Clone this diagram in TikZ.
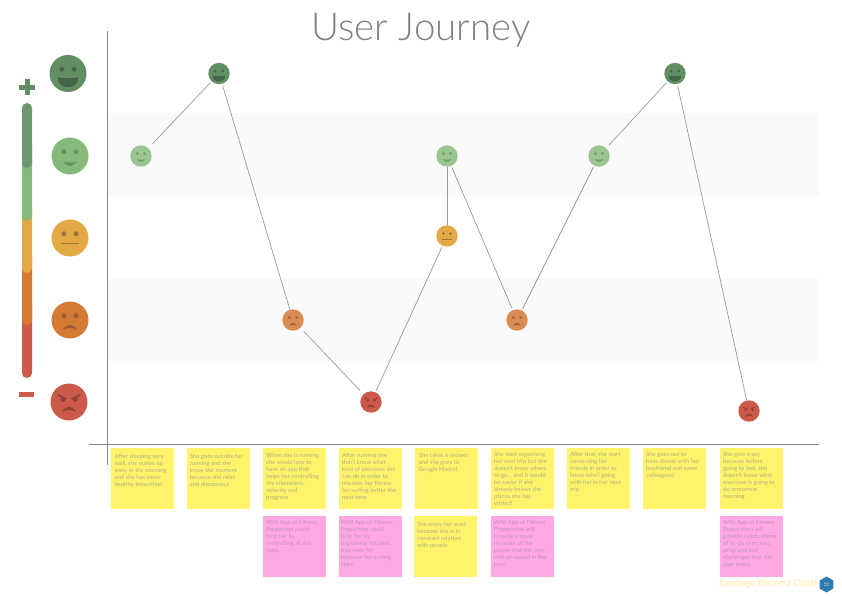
\documentclass[tikz,border=0pt]{standalone}
\usepackage{fontspec}
\setmainfont{Lato}
\newfontfamily\titlefont{Lato Light}
\usetikzlibrary{shapes.geometric}
\definecolor{cA}{HTML}{628E64}\definecolor{eA}{HTML}{46664A}
\definecolor{cB}{HTML}{84BA7A}\definecolor{eB}{HTML}{659263}
\definecolor{cC}{HTML}{E3A945}\definecolor{eC}{HTML}{9C7040}
\definecolor{cD}{HTML}{D57A35}\definecolor{eD}{HTML}{9C5A2E}
\definecolor{cE}{HTML}{CC5A4A}\definecolor{eE}{HTML}{8F4036}
\definecolor{noteY}{HTML}{FFF36B}\definecolor{noteP}{HTML}{FFA8E4}
\definecolor{txtY}{HTML}{B2B080}\definecolor{txtP}{HTML}{C090BA}
\definecolor{axisc}{HTML}{888888}\definecolor{linec}{HTML}{999999}
\definecolor{sigc}{HTML}{FFE8A0}\definecolor{logoc}{HTML}{2F7AB0}
\definecolor{bandc}{HTML}{FAFAFA}
\tikzset{
  band/.style={fill=bandc,draw=none},
  axisline/.style={draw=axisc,line width=0.9pt},
  link/.style={draw=linec,line width=0.7pt},
  notebox/.style={minimum width=63pt,minimum height=61pt,inner sep=0pt,outer sep=0pt,anchor=north west},
  notetext/.style={anchor=north west,inner sep=0pt,align=left,font=\fontsize{5.9}{7}\selectfont},
  facenode/.style={circle,inner sep=0pt,outer sep=0pt,minimum size=#1},
}
\newcommand{\eyes}[3]{\fill[#1] (-0.33*#2,#3*#2) circle[radius=0.135*#2] (0.33*#2,#3*#2) circle[radius=0.135*#2];}
\newcommand{\faceA}[2]{\eyes{#1}{#2}{-0.23}\fill[#1] (-0.56*#2,0.2*#2) .. controls (-0.2*#2,0.27*#2) and (0.2*#2,0.27*#2) .. (0.56*#2,0.2*#2) .. controls (0.6*#2,0.93*#2) and (-0.6*#2,0.93*#2) .. (-0.56*#2,0.2*#2);}
\newcommand{\faceB}[2]{\eyes{#1}{#2}{-0.23}\fill[#1] (-0.38*#2,0.3*#2) .. controls (-0.12*#2,0.37*#2) and (0.12*#2,0.37*#2) .. (0.38*#2,0.3*#2) .. controls (0.2*#2,0.62*#2) and (-0.2*#2,0.62*#2) .. (-0.38*#2,0.3*#2);}
\newcommand{\faceC}[2]{\eyes{#1}{#2}{-0.23}\fill[#1] (-0.5*#2,0.28*#2) rectangle (0.5*#2,0.35*#2);}
\newcommand{\faceD}[2]{\eyes{#1}{#2}{-0.23}\fill[#1] (-0.38*#2,0.52*#2) .. controls (-0.2*#2,0.18*#2) and (0.2*#2,0.18*#2) .. (0.38*#2,0.52*#2) .. controls (0.15*#2,0.4*#2) and (-0.15*#2,0.4*#2) .. (-0.38*#2,0.52*#2);}
\newcommand{\faceE}[2]{\eyes{#1}{#2}{-0.14}\fill[#1] (-0.38*#2,0.52*#2) .. controls (-0.2*#2,0.18*#2) and (0.2*#2,0.18*#2) .. (0.38*#2,0.52*#2) .. controls (0.15*#2,0.4*#2) and (-0.15*#2,0.4*#2) .. (-0.38*#2,0.52*#2);
  \fill[#1] (-0.6*#2,-0.44*#2) -- (-0.12*#2,-0.2*#2) -- (-0.15*#2,-0.13*#2) -- (-0.62*#2,-0.34*#2) -- cycle;
  \fill[#1] (0.6*#2,-0.44*#2) -- (0.12*#2,-0.2*#2) -- (0.15*#2,-0.13*#2) -- (0.62*#2,-0.34*#2) -- cycle;}
\newcommand{\face}[6]{%
  \node[facenode=#4*2pt,fill=c#5,opacity=#6] (#1) at (#2,#3) {};
  \begin{scope}[shift={(#2,#3)},opacity=#6]\csname face#5\endcsname{e#5}{#4}\end{scope}}
\begin{document}
\begin{tikzpicture}[x=1pt,y=-1pt]
\useasboundingbox (0,0) rectangle (842,595);
\fill[band] (108,113) rectangle (819,196);
\fill[band] (108,278) rectangle (819,361);
\coordinate (ytop) at (107.5,31); \coordinate (ybot) at (107.5,465);
\coordinate (xl) at (89,444.5); \coordinate (xr) at (819,444.5);
\draw[axisline] (ytop) -- (ybot);
\draw[axisline] (xl) -- (xr);
\node[font=\titlefont\fontsize{38.5}{40}\selectfont,text=black!50,inner sep=0pt] (title) at (421,30) {User Journey};
\fill[cE,rounded corners=5pt] (22,300) rectangle (32,378);
\fill[cD,rounded corners=5pt] (22,250) rectangle (32,325);
\fill[cC,rounded corners=5pt] (22,200) rectangle (32,273);
\fill[cB,rounded corners=5pt] (22,140) rectangle (32,221);
\fill[cA!92!white,rounded corners=5pt] (22,103) rectangle (32,168);
\fill[cA] (19,84.5) rectangle (35,89.5);
\fill[cA] (24.5,79) rectangle (29.5,95);
\fill[cE] (18.5,391.7) rectangle (34,397);
\face{la}{68}{73.5}{18.5}{A}{1}
\face{lb}{70}{156}{18.5}{B}{1}
\face{lc}{70}{238}{18.5}{C}{1}
\face{ld}{70}{320}{18.5}{D}{1}
\face{le}{69}{402}{18.5}{E}{1}
\face{n1}{141}{156}{10.7}{B}{0.82}
\face{n2}{219}{73.5}{10.7}{A}{1}
\face{n3}{293}{320}{10.7}{D}{0.85}
\face{n4}{371}{402}{10.7}{E}{1}
\face{n5}{447}{236}{10.7}{C}{1}
\face{n6}{447}{156}{10.7}{B}{0.82}
\face{n7}{517}{320}{10.7}{D}{0.85}
\face{n8}{599}{156}{10.7}{B}{0.82}
\face{n9}{675}{73.5}{10.7}{A}{1}
\face{n10}{749}{411}{10.7}{E}{1}
\draw[link,shorten >=2pt,shorten <=6pt] (n1) -- (n2);
\draw[link,shorten >=0pt,shorten <=2pt] (n2) -- (n3);
\draw[link,shorten >=5pt,shorten <=5pt] (n3) -- (n4);
\draw[link,shorten >=2pt,shorten <=2pt] (n4) -- (n5);
\draw[link] (n5) -- (n6);
\draw[link,shorten >=2pt,shorten <=2pt] (n6) -- (n7);
\draw[link,shorten >=2pt,shorten <=2pt] (n7) -- (n8);
\draw[link,shorten >=2pt,shorten <=4pt] (n8) -- (n9);
\draw[link,shorten >=0pt,shorten <=2pt] (n9) -- (n10);
\node[notebox,fill=noteY] (y1) at (111,448) {};
\node[notebox,fill=noteY] (y2) at (187,448) {};
\node[notebox,fill=noteY] (y3) at (263,448) {};
\node[notebox,fill=noteY] (y4) at (339,448) {};
\node[notebox,fill=noteY] (y5) at (415,448) {};
\node[notebox,fill=noteY] (y6) at (491,448) {};
\node[notebox,fill=noteY] (y7) at (567,448) {};
\node[notebox,fill=noteY] (y8) at (643,448) {};
\node[notebox,fill=noteY] (y9) at (720,448) {};
\node[notebox,fill=noteP] (p3) at (263,516) {};
\node[notebox,fill=noteP] (p4) at (339,516) {};
\node[notebox,fill=noteY] (y5b) at (414,516) {};
\node[notebox,fill=noteP] (p6) at (491,516) {};
\node[notebox,fill=noteP] (p9) at (720,516) {};
\node[notetext,text=txtY] (ty1) at (114.7,453.5) {After sleeping very\\well, she wakes up\\early in the morning\\and she has some\\healthy breackfast};
\node[notetext,text=txtY] (ty2) at (189.7,453.5) {She goes outside for\\running and she\\enjoy the moment\\because she relax\\and disconnect};
\node[notetext,text=txtY] (ty3) at (266,452.5) {When she is running\\she would love to\\have an app that\\helps her controlling\\the kilometers,\\velocity and\\progress};
\node[notetext,text=txtP] (tp3) at (266,520) {WNI App of Fitness\\Prepartion could\\help her by\\controlling all this\\stats.};
\node[notetext,text=txtY] (ty4) at (342,452.5) {After running she\\don't know what\\kind of exercises she\\can do in order to\\improve her fitness\\for surfing better the\\next time};
\node[notetext,text=txtP] (tp4) at (341,519.5) {WNI App of Fitness\\Prepartion could\\help her by\\explaining the best\\exercises for\\improve her surfing\\skiss};
\node[notetext,text=txtY] (ty5) at (418.7,452.5) {She takes a shower\\and she goes to\\Google Madrid};
\node[notetext,text=txtY] (ty5b) at (417,521.5) {She enjoy her work\\because she is in\\constant relation\\with people};
\node[notetext,text=txtY] (ty6) at (494,451.5) {She start organising\\her next trip but she\\doesn't know where\\to go... and it would\\be easier if she\\already knows the\\places she has\\visited!};
\node[notetext,text=txtP] (tp6) at (494,519.5) {WNI App of Fitness\\Preparation will\\provide a route\\recorder of the\\places that the user\\visit or visited in the\\past.};
\node[notetext,text=txtY] (ty7) at (570,451.5) {After that, she start\\contacting her\\friends in order to\\know who'l going\\with her in her next\\trip};
\node[notetext,text=txtY] (ty8) at (646,451.5) {She goes out to\\have dinner with her\\boyfriend and some\\colleagues!};
\node[notetext,text=txtY] (ty9) at (723,451.5) {She gets crazy\\because before\\going to bed, she\\doesn't know what\\exercises is going to\\do tomorrow\\morning};
\node[notetext,text=txtP] (tp9) at (723,519.5) {WNI App of Fitness\\Preparation will\\provide notifications\\of to-do exercises,\\programs and\\challenges that the\\user select};
\node[anchor=west,inner sep=0pt,text=sigc,font=\fontsize{9.7}{12}\selectfont] (sig) at (719,584) {Santiago Becerra Conti};
\node[regular polygon,regular polygon sides=6,shape border rotate=30,minimum size=16pt,inner sep=0pt,fill=logoc,text=white,align=center,font=\fontsize{2}{2.4}\selectfont] (logo) at (826.5,584.5) {IRON\\HACK};
\end{tikzpicture}
\end{document}
